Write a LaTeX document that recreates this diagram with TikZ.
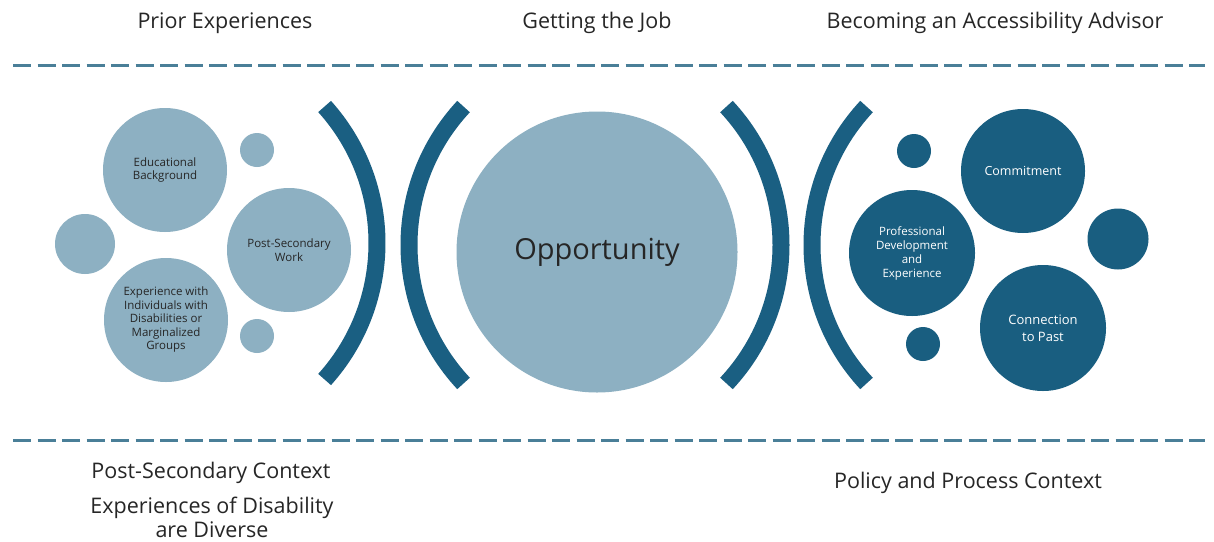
\documentclass[tikz,border=0pt]{standalone}
\usepackage{fontspec}
\setmainfont{Open Sans}
\definecolor{lightc}{HTML}{8DB0C2}
\definecolor{darkc}{HTML}{195E80}
\definecolor{arcc}{HTML}{1A5F82}
\definecolor{dashc}{HTML}{4A7F98}
\definecolor{textc}{HTML}{262626}
\begin{document}
\begin{tikzpicture}[x=1pt,y=1pt,
  lightcirc/.style={circle,fill=lightc,draw=none,inner sep=0pt,minimum size=#1,text=textc,align=center,font=\fontsize{11.5}{13.5}\selectfont},
  darkcirc/.style={circle,fill=darkc,draw=none,inner sep=0pt,minimum size=#1,text=white,align=center,font=\fontsize{11.5}{14}\selectfont},
  bigtext/.style={font=\fontsize{12.5}{17}\selectfont},
  head/.style={text=textc,align=center,font=\fontsize{21.5}{24}\selectfont},
  dashline/.style={draw=dashc,line width=3pt,dash pattern=on 18pt off 6.5pt},
  arcst/.style={draw=arcc,line width=17pt,line cap=butt}]
\useasboundingbox (0,0) rectangle (1214,-541);
\fill[white] (0,0) rectangle (1214,-541);

% headings
\node[head] (h1) at (225,-23) {Prior Experiences};
\node[head] (h2) at (597,-23) {Getting the Job};
\node[head] (h3) at (995,-23) {Becoming an Accessibility Advisor};

% dashed lines
\coordinate (d1a) at (13,-65);
\coordinate (d1b) at (1205,-65);
\coordinate (d2a) at (13,-440);
\coordinate (d2b) at (1205,-440);
\draw[dashline] (d1a) -- (d1b);
\draw[dashline] (d2a) -- (d2b);

% left circles
\node[lightcirc=124pt] (edu) at (165,-170) {Educational\\Background};
\node[lightcirc=34pt] (ls1) at (257,-150) {};
\node[lightcirc=60pt] (ls2) at (85,-244) {};
\node[lightcirc=124pt] (psw) at (289,-250) {Post-Secondary\\Work};
\node[lightcirc=124pt] (exp) at (166,-320) {Experience with\\Individuals with\\Disabilities or\\Marginalized\\Groups};
\node[lightcirc=34pt] (ls3) at (257,-336) {};

% arcs
\draw[arcst] (173,-243) ++(42:204pt) arc[start angle=42,end angle=-42,radius=204pt];
\draw[arcst] (612,-245) ++(137:203pt) arc[start angle=137,end angle=223,radius=203pt];
\draw[arcst] (578,-245) ++(43:203pt) arc[start angle=43,end angle=-43,radius=203pt];
\draw[arcst] (1015,-245) ++(137:203pt) arc[start angle=137,end angle=223,radius=203pt];

% opportunity
\node[lightcirc=281pt,font=\fontsize{29}{34}\selectfont] (opp) at (597,-252) {Opportunity};

% right circles
\node[darkcirc=34pt] (rs1) at (914,-151) {};
\node[darkcirc=124pt,bigtext] (com) at (1023,-171) {Commitment};
\node[darkcirc=126pt] (pro) at (912,-253) {Professional\\Development\\and\\Experience};
\node[darkcirc=61pt] (rs2) at (1118,-239) {};
\node[darkcirc=126pt,font=\fontsize{13}{17}\selectfont] (con) at (1043,-328) {Connection\\to Past};
\node[darkcirc=34pt] (rs3) at (923,-344) {};

% bottom texts
\node[head] (b1) at (211,-473) {Post-Secondary Context};
\node[head,inner sep=1pt] (b2) at (212,-517) {Experiences of Disability\\are Diverse};
\node[head] (b3) at (968,-483) {Policy and Process Context};
\end{tikzpicture}
\end{document}
